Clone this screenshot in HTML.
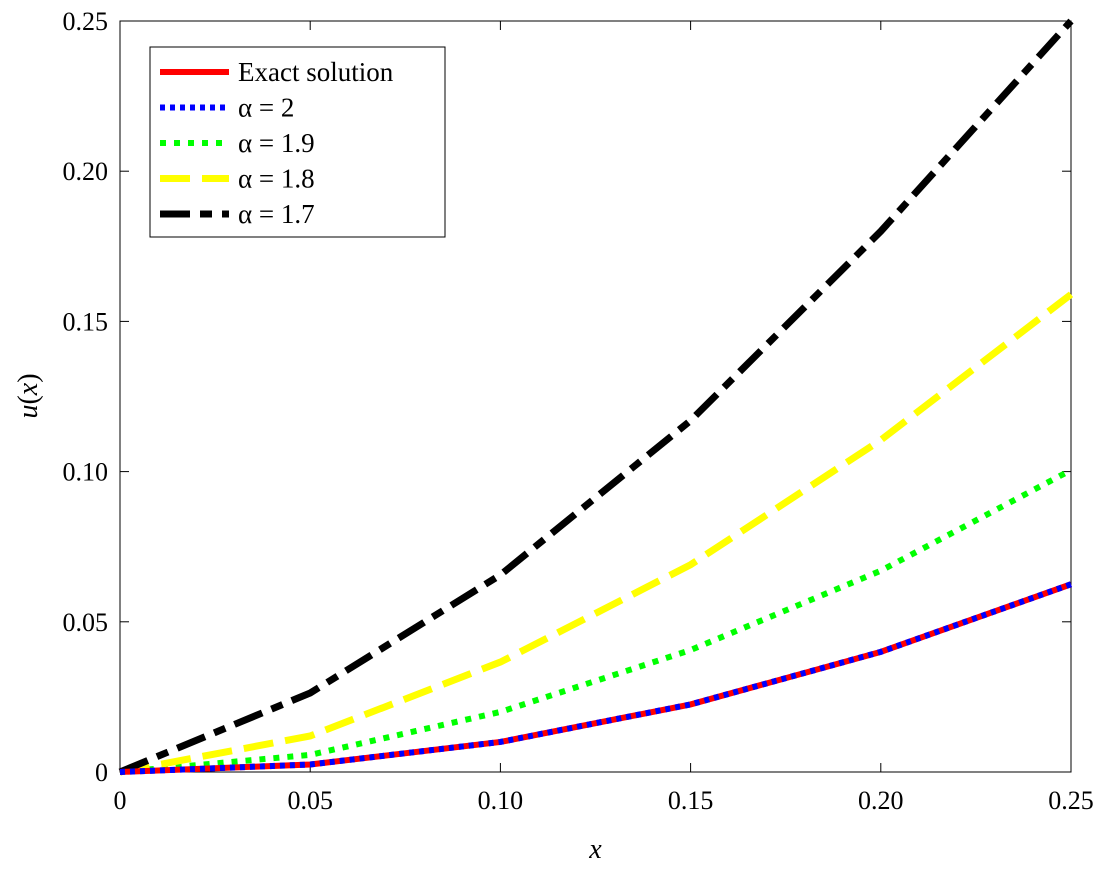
<!DOCTYPE html>
<html><head><meta charset="utf-8"><style>
body{margin:0;background:#fff;}
svg text{font-family:"Liberation Serif",serif;fill:#000;}
</style></head><body>
<svg id="chart" width="1107" height="865" xmlns="http://www.w3.org/2000/svg"></svg>
<script>
const xValues=[0,0.05,0.10,0.15,0.20,0.25];
const exactValues=[0,0.0025,0.01,0.0225,0.04,0.0625];
const alpha2Values=[0,0.0025,0.01,0.0225,0.04,0.0625];
const alpha19Values=[0,0.0057,0.02,0.0406,0.067,0.1005];
const alpha18Values=[0,0.012,0.0366,0.069,0.1105,0.159];
const alpha17Values=[0,0.0263,0.0656,0.117,0.18,0.25];
const xTicks=[0,0.05,0.10,0.15,0.20,0.25];
const xTickLabels=["0","0.05","0.10","0.15","0.20","0.25"];
const yTicks=[0,0.05,0.10,0.15,0.20,0.25];
const yTickLabels=["0","0.05","0.10","0.15","0.20","0.25"];
const seriesNames=["Exact solution","α = 2","α = 1.9","α = 1.8","α = 1.7"];

const NS="http://www.w3.org/2000/svg";
const svg=document.getElementById('chart');
const L=120,R=1071,T=21,B=772;
const sx=v=>L+(v-0)/(0.25)*(R-L);
const sy=v=>B-(v-0)/(0.25)*(B-T);
function mk(tag,attrs,parent){const e=document.createElementNS(NS,tag);for(const k in attrs)e.setAttribute(k,attrs[k]);(parent||svg).appendChild(e);return e;}

const frame=mk('rect',{x:L,y:T,width:R-L,height:B-T,fill:'#fff',stroke:'#000','stroke-width':1});



xTicks.forEach((t,i)=>{
  const x=sx(t);
  mk('line',{x1:x,y1:B,x2:x,y2:B-9,stroke:'#000'});
  mk('line',{x1:x,y1:T,x2:x,y2:T+9,stroke:'#000'});
  const tx=mk('text',{x:x,y:B+37,'text-anchor':'middle','font-size':26});
  tx.textContent=xTickLabels[i];
  
  
});
yTicks.forEach((t,i)=>{
  const y=sy(t);
  mk('line',{x1:L,y1:y,x2:L+9,y2:y,stroke:'#000'});
  mk('line',{x1:R,y1:y,x2:R-9,y2:y,stroke:'#000'});
  const tx=mk('text',{x:L-12,y:y+9,'text-anchor':'end','font-size':26});
  tx.textContent=yTickLabels[i];
  
  
});
const xl=mk('text',{x:(L+R)/2,y:858,'text-anchor':'middle','font-size':28,'font-style':'italic'});
xl.textContent='x';


const yl=mk('text',{x:0,y:0,'text-anchor':'middle','font-size':28,transform:'translate(37,396) rotate(-90)'});
yl.innerHTML='<tspan font-style="italic">u</tspan>(<tspan font-style="italic">x</tspan>)';



const styles=[
 {vals:exactValues,color:'#ff0000',dash:'',w:6,name:'series-exact'},
 {vals:alpha2Values,color:'#0000ff',dash:'5 5',w:6,name:'series-alpha-2'},
 {vals:alpha19Values,color:'#00ff00',dash:'6 8',w:6,name:'series-alpha-1-9'},
 {vals:alpha18Values,color:'#ffff00',dash:'30 12',w:7,name:'series-alpha-1-8'},
 {vals:alpha17Values,color:'#000000',dash:'30 10 12 10',w:7,name:'series-alpha-1-7'}
];
const draw=[styles[2],styles[3],styles[4],styles[0],styles[1]];
draw.forEach(s=>{
  const d=s.vals.map((v,i)=>(i?'L':'M')+sx(xValues[i])+','+sy(v)).join(' ');
  const p=mk('path',{d:d,fill:'none',stroke:s.color,'stroke-width':s.w,'stroke-dasharray':s.dash});
  
  
});

const lg=mk('g',{});


mk('rect',{x:150,y:47,width:295,height:190,fill:'#fff',stroke:'#000'},lg);
styles.forEach((s,i)=>{
  const y=72+i*35.5;
  const ln=mk('line',{x1:160,y1:y,x2:229,y2:y,stroke:s.color,'stroke-width':s.w,'stroke-dasharray':s.dash},lg);
  
  
  const t=mk('text',{x:238,y:y+9,'font-size':27},lg);
  t.textContent=seriesNames[i];
  
  
});
</script>
</body></html>
